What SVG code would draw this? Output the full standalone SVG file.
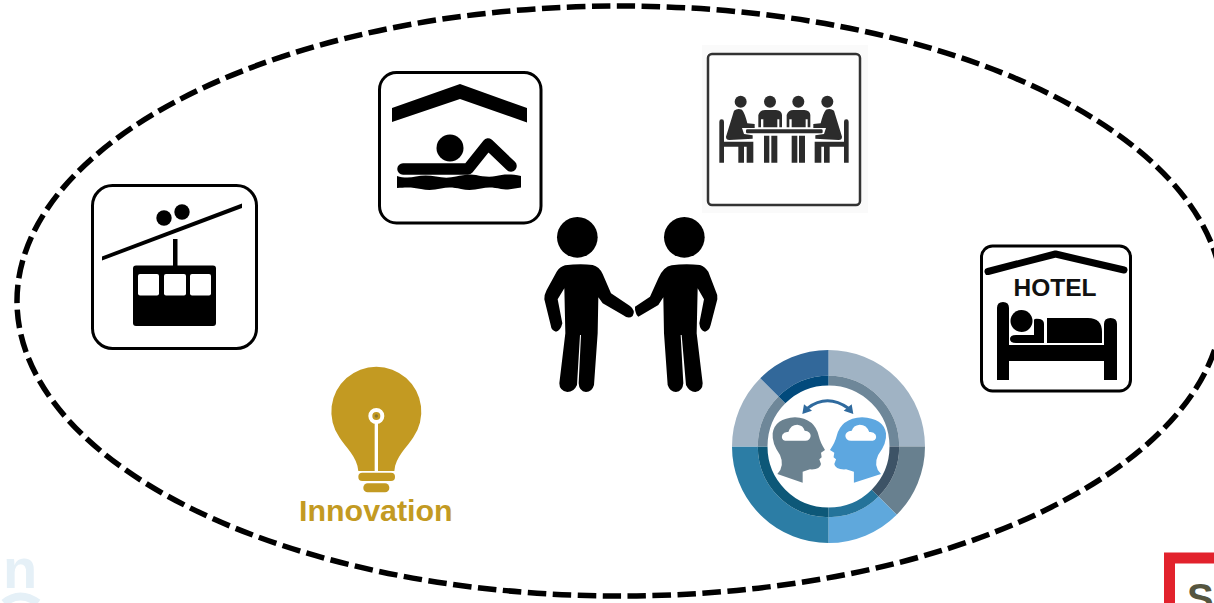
<svg xmlns="http://www.w3.org/2000/svg" xmlns:xlink="http://www.w3.org/1999/xlink" width="1214" height="603" viewBox="0 0 1214 603">
<style>
.box{fill:#fff;stroke:#000;stroke-width:3}
.k{fill:#000}
.w{fill:#fff}
.m{fill:#2b2b2b}
.seg{fill:none;stroke-width:25.8}
.ring{fill:none;stroke-width:9.7}
.gold{fill:#c39a22}
</style>
<defs>
<g id="sitter">
<circle cx="632" cy="185" r="18"/>
<path d="M612,212Q622,204 636,209Q645,220 652,250L674,252V264L636,264L642,282L668,286V296L598,300Q588,300 588,290Z"/>
<path d="M568,245Q568,238 575,238Q582,238 582,245V305H670V368H650V320H642V368H625V320H582V368H568Z"/>
</g>
<g id="headShape">
<path d="M172,402Q195,378 180,345Q155,310 158,280Q165,235 225,232Q285,235 297,290Q300,305 315,330L303,338L305,352L298,358L303,372Q300,390 270,388L248,395V428Z"/>
<path class="w" d="M195,302Q182,298 187,284Q193,274 205,276Q212,254 232,254Q250,256 254,272Q272,274 272,288Q270,302 256,302Z"/>
</g>
</defs>
<rect width="1214" height="603" fill="#fff"/>
<g id="watermark-left">
<text x="3" y="588" font-family="'Liberation Sans',Arial,sans-serif" font-weight="700" font-size="56" fill="#e5f0f7">n</text>
<path d="M4,603Q20,590 38,603" fill="none" stroke="#e5f0f7" stroke-width="8"/>
</g>
<g id="logo-right">
<path d="M1214,558H1169.500V603" fill="none" stroke="#e2222c" stroke-width="11"/>
<text x="1187" y="612" font-family="'Liberation Sans',Arial,sans-serif" font-weight="700" font-size="40" fill="#55553f">S</text>
</g>
<g id="connectors">
<ellipse cx="620" cy="301" rx="603" ry="295" fill="none" stroke="#000" stroke-width="5.500" stroke-dasharray="18.500 6.500"/>
</g>
<g id="gondola">
<rect class="box" x="92.500" y="185.500" width="164" height="163" rx="20"/>
<path d="M102,256.500L242,203.500V208L102,260.500Z" class="k"/>
<circle class="k" cx="164" cy="218" r="7.700"/>
<circle class="k" cx="182" cy="212" r="7.700"/>
<rect class="k" x="173" y="239" width="4.500" height="28"/>
<rect class="k" x="133" y="265.500" width="83" height="60.500" rx="3"/>
<rect class="w" x="138" y="274" width="21" height="21.500" rx="2"/>
<rect class="w" x="164" y="274" width="22" height="21.500" rx="2"/>
<rect class="w" x="190" y="274" width="21" height="21.500" rx="2"/>
</g>
<g id="pool">
<rect class="box" x="379.500" y="72.500" width="161.500" height="150.500" rx="17"/>
<path class="k" d="M392,108L460,84L527,108V122.500L460,99L392,122Z"/>
<circle class="k" cx="450" cy="148" r="13.500"/>
<path d="M403,169H468L488,144L511,166" fill="none" stroke="#000" stroke-width="11.500" stroke-linecap="round" stroke-linejoin="round"/>
<path class="k" d="M397,176C403,178 410,178 416,176.500S429,175 436,176.500S450,178 456,176.500S470,173.500 476,175S490,177.500 496,176S510,173.500 521,176V187.500C515,188 508,190.500 501,189S488,187 481,188.500S468,190.500 461,189S448,187 441,188.500S428,190.500 421,189S408,187 397,188Z"/>
</g>
<g id="meeting">
<rect x="702" y="45" width="166" height="168" fill="#fafafa"/>
<rect x="708" y="54" width="152" height="151" rx="4" fill="#fff" stroke="#333" stroke-width="2.500"/>
<g class="m" transform="translate(530 40) scale(.33333)">
<use xlink:href="#sitter" href="#sitter"/>
<use xlink:href="#sitter" href="#sitter" transform="translate(1524 0) scale(-1 1)"/>
<circle cx="720" cy="185" r="18"/>
<circle cx="805" cy="185" r="18"/>
<path d="M685,262V225Q690,210 705,210H738Q755,212 756,225V262H748V238H742V262H700V238H693V262Z"/>
<path d="M770,262V225Q775,210 790,210H823Q840,212 841,225V262H833V238H827V262H785V238H778V262Z"/>
<rect x="648" y="268" width="230" height="12" rx="4"/>
<path d="M702,287H718V368H702ZM724,287H742V368H724ZM785,287H802V368H785ZM807,287H825V368H807Z"/>
</g>
</g>
<g id="people" transform="translate(530 40) scale(.33333)">
<circle class="k" cx="142" cy="592" r="61"/>
<circle class="k" cx="463" cy="592" r="61"/>
<path class="k" d="M105,676Q150,670 188,675Q208,680 218,702L243,760L300,798Q318,812 308,828Q296,838 280,826L218,790L205,772L203,880L192,1035Q186,1056 168,1056Q147,1054 146,1030L153,885H150L141,1035Q132,1056 112,1056Q88,1052 88,1030L106,880L103,745L83,778L97,850Q92,872 78,875Q64,872 62,855L43,778Q42,765 50,750L80,695Q90,680 105,676Z"/>
<path class="k" d="M425,676Q465,670 510,675Q525,680 535,695L558,755Q564,765 562,778L542,855Q538,872 525,875Q510,872 508,850L522,778L503,745L500,880L518,1030Q518,1052 496,1056Q478,1056 468,1035L455,885H452L460,1030Q458,1054 438,1056Q420,1056 413,1035L402,880L400,772L385,795L325,830Q320,828 318,820Q314,808 315,800L360,770L385,715Q400,680 425,676Z"/>
</g>
<g id="bulb" class="gold" transform="translate(280 360) scale(.33333)">
<path d="M235,333C232,290 195,260 178,232A135,135 0 1 1 400,232C383,260 346,290 343,333Z"/>
<rect x="235" y="338" width="110" height="25" rx="12"/>
<rect x="250" y="370" width="78" height="27" rx="13"/>
<rect class="w" x="284" y="185" width="10" height="150"/>
<circle cx="289" cy="168" r="18" fill="#c39a22" stroke="#fff" stroke-width="12"/>
<circle cx="289" cy="168" r="5" fill="#8a7530"/>
</g>
<g id="innovation">
<text x="299" y="521" font-family="'Liberation Sans',Arial,sans-serif" font-weight="700" font-size="30.400" fill="#c39a22">Innovation</text>
</g>
<g id="minds">
<path class="seg" stroke="#a0b3c4" d="M828.500,362.900A83.600,83.600 0 0 1 912.100,446.500"/>
<path class="seg" stroke="#68808f" d="M912.100,446.500A83.600,83.600 0 0 1 887.600,505.600"/>
<path class="seg" stroke="#5fa8dc" d="M887.600,505.600A83.600,83.600 0 0 1 828.500,530.100"/>
<path class="seg" stroke="#2c7da5" d="M828.500,530.100A83.600,83.600 0 0 1 744.900,446.500"/>
<path class="seg" stroke="#a0b3c4" d="M744.900,446.500A83.600,83.600 0 0 1 769.400,387.400"/>
<path class="seg" stroke="#32689a" d="M769.400,387.400A83.600,83.600 0 0 1 828.500,362.900"/>
<path class="ring" stroke="#6e8799" d="M828.500,380.650A65.850,65.850 0 0 1 894.350,446.500"/>
<path class="ring" stroke="#3d5366" d="M894.350,446.500A65.850,65.850 0 0 1 875.060,493.060"/>
<path class="ring" stroke="#24739a" d="M875.060,493.060A65.850,65.850 0 0 1 828.500,512.350"/>
<path class="ring" stroke="#0d5878" d="M828.500,512.350A65.850,65.850 0 0 1 762.650,446.500"/>
<path class="ring" stroke="#6e8799" d="M762.650,446.500A65.850,65.850 0 0 1 781.940,399.940"/>
<path class="ring" stroke="#024a7c" d="M781.940,399.940A65.850,65.850 0 0 1 828.500,380.650"/>
<g transform="translate(720 340) scale(.33333)">
<use xlink:href="#headShape" href="#headShape" fill="#6b8290"/>
<use xlink:href="#headShape" href="#headShape" fill="#5da7e0" transform="translate(498 0) scale(-1.070 1) translate(-158 0)"/>
<path d="M262,205Q322,160 385,205" fill="none" stroke="#2f6a9e" stroke-width="9"/>
<path fill="#2f6a9e" d="M247,222L252,193L276,212ZM400,222L395,193L371,212Z"/>
</g>
</g>
<g id="hotel">
<rect class="box" x="981.500" y="246" width="149" height="145" rx="11"/>
<path d="M988,271.500L1055.500,254L1124,270" fill="none" stroke="#000" stroke-width="7" stroke-linecap="round" stroke-linejoin="round"/>
<text x="1013.500" y="295.500" font-family="'Liberation Sans',Arial,sans-serif" font-weight="700" font-size="24.500" fill="#111">HOTEL</text>
<path class="k" d="M997,308Q997,302 1003,302Q1009,302 1009,308V345H1104V324Q1104,318 1110.500,318Q1117,318 1117,324V380H1104V361H1009V380H997Z"/>
<circle class="k" cx="1021.500" cy="321" r="11"/>
<path class="k" d="M1016,335H1034V320Q1034,318 1040,319Q1044,320 1044,324V343H1016Q1010,343 1010,339Q1010,335 1016,335Z"/>
<path class="k" d="M1047,318H1088Q1102,318 1102,332V343H1047Z"/>
</g>
</svg>
